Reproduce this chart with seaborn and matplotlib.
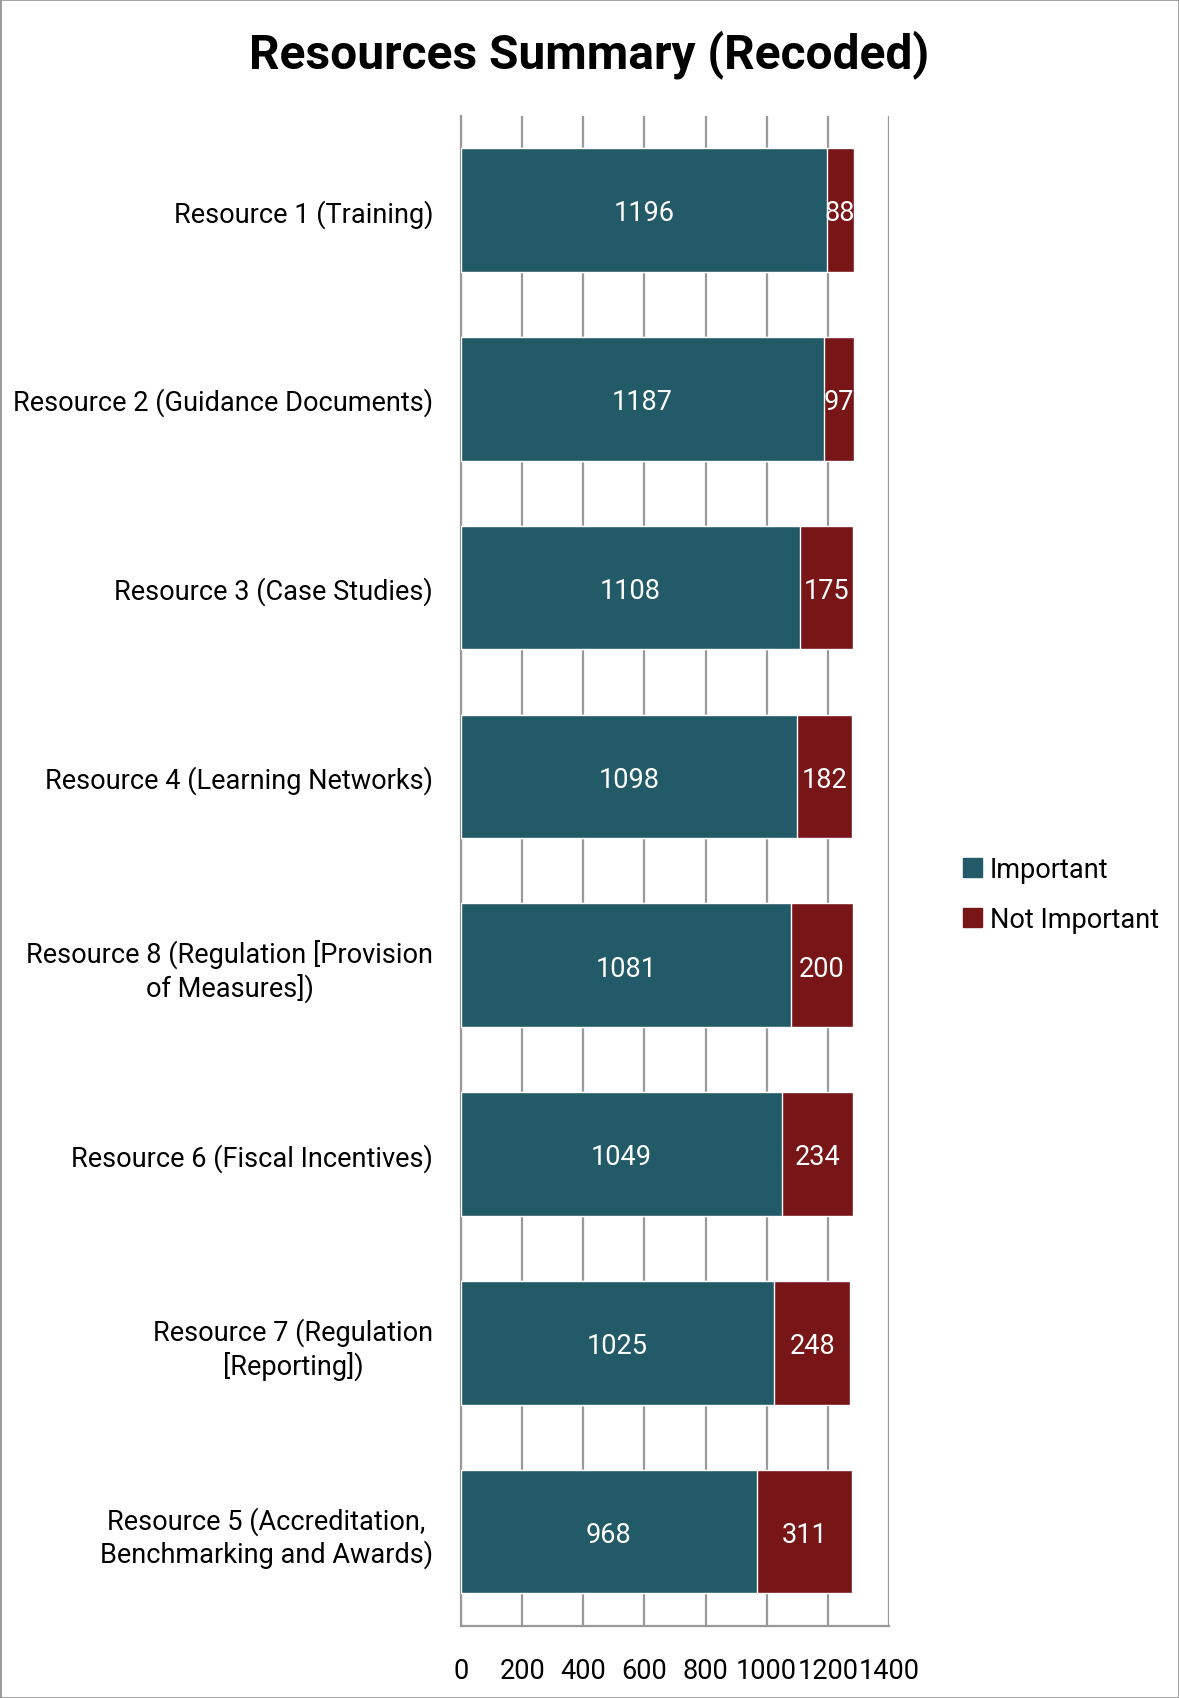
import pandas as pd
import numpy as np
import matplotlib
matplotlib.use("Agg")
import matplotlib.pyplot as plt
import seaborn as sns
from matplotlib.patches import Patch, Rectangle

# datos del grafico
recursos = [
    "Resource 1 (Training)",
    "Resource 2 (Guidance Documents)",
    "Resource 3 (Case Studies)",
    "Resource 4 (Learning Networks)",
    "Resource 8 (Regulation [Provision\nof Measures])",
    "Resource 6 (Fiscal Incentives)",
    "Resource 7 (Regulation\n[Reporting])",
    "Resource 5 (Accreditation,\nBenchmarking and Awards)",
]
importante = [1196, 1187, 1108, 1098, 1081, 1049, 1025, 968]
no_importante = [88, 97, 175, 182, 200, 234, 248, 311]
ticks_x = [0, 200, 400, 600, 800, 1000, 1200, 1400]

color_imp = "#235A68"
color_no = "#771517"

df = pd.DataFrame({"recurso": recursos, "imp": importante, "no": no_importante})
df["total"] = df["imp"] + df["no"]

sns.set_style("white")
plt.rcParams["font.family"] = ["Roboto", "DejaVu Sans"]
plt.rcParams["text.color"] = "black"
plt.rcParams["xtick.color"] = "black"
plt.rcParams["ytick.color"] = "black"

fig = plt.figure(figsize=(11.79, 16.99), dpi=100)
ax = fig.add_axes([0.391, 0.0424, 0.363, 0.889])

# barras apiladas: primero el total (rojo), luego importante encima
sns.barplot(data=df, y="recurso", x="total", color=color_no, width=0.655,
            orient="h", ax=ax, saturation=1, zorder=3)
sns.barplot(data=df, y="recurso", x="imp", color=color_imp, width=0.655,
            orient="h", ax=ax, saturation=1, zorder=3)

cont_no = ax.containers[0]
cont_imp = ax.containers[1]
# etiquetas centradas en cada segmento
for barra, v in zip(cont_imp, df["imp"]):
    ax.text(v / 2, barra.get_y() + barra.get_height() / 2, str(v),
            ha="center", va="center_baseline", color="white", fontsize=19.5, zorder=5)
for barra, a, b in zip(cont_no, df["imp"], df["no"]):
    ax.text(a + b / 2, barra.get_y() + barra.get_height() / 2, str(b),
            ha="center", va="center_baseline", color="white", fontsize=19.5, zorder=5)

ax.set_xlim(0, 1400)
ax.set_xticks(ticks_x)
ax.set_xticklabels([str(t) for t in ticks_x], fontsize=19.5)
ax.tick_params(axis="x", length=0, pad=22)
ax.tick_params(axis="y", length=0, pad=20, labelsize=19.5)
for lbl in ax.get_yticklabels():
    lbl.set_multialignment("center")
ax.set_xlabel("")
ax.set_ylabel("")
ax.xaxis.grid(True, color="#999999", linewidth=1.6, zorder=0)
ax.set_axisbelow(True)

for lado in ["top", "right"]:
    ax.spines[lado].set_visible(False)
for lado in ["left", "bottom"]:
    ax.spines[lado].set_color("#999999")
    ax.spines[lado].set_linewidth(1.6)

fig.suptitle("Resources Summary (Recoded)", x=0.5, y=0.982, fontsize=34.5,
             fontweight="bold", color="black")

handles = [Patch(color=color_imp, label="Important"),
           Patch(color=color_no, label="Not Important")]
fig.legend(handles=handles, loc="center left", bbox_to_anchor=(0.796, 0.473),
           frameon=False, fontsize=19.5, handlelength=0.7, handleheight=0.7,
           handletextpad=0.3, labelspacing=0.85)

# marco de la figura
fig.patches.append(Rectangle((0, 0), 1, 1, transform=fig.transFigure,
                             fill=False, edgecolor="#999999", linewidth=2))

fig.savefig("out.png", dpi=100)
plt.close(fig)
